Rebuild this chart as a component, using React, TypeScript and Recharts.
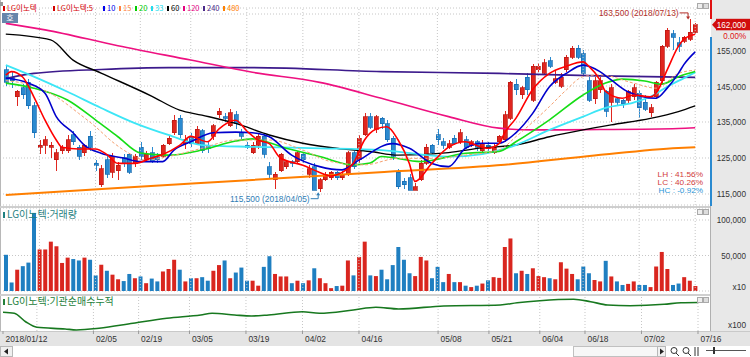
import React from "react";
import {
  ComposedChart, Bar, Line, XAxis, YAxis, CartesianGrid,
  ReferenceLine, ReferenceDot, Cell,
} from "recharts";

// ─── Data (LG이노텍 daily, 2018/01/12 – 2018/07/16) ───────────────────────────

const YEAR = "2018";

const dates = [
  "01/12","01/15","01/16","01/17","01/18","01/19","01/22","01/23","01/24","01/25","01/26","01/29","01/30","01/31",
  "02/01","02/02","02/05","02/06","02/07","02/08","02/09","02/12","02/13","02/14","02/19","02/20","02/21","02/22","02/23","02/26","02/27","02/28",
  "03/02","03/05","03/06","03/07","03/08","03/09","03/12","03/13","03/14","03/15","03/16","03/19","03/20","03/21","03/22","03/23","03/26","03/27","03/28","03/29","03/30",
  "04/02","04/03","04/04","04/05","04/06","04/09","04/10","04/11","04/12","04/13","04/16","04/17","04/18","04/19","04/20","04/23","04/24","04/25","04/26","04/27","04/30",
  "05/02","05/03","05/04","05/08","05/09","05/10","05/11","05/14","05/15","05/16","05/17","05/18","05/21","05/23","05/24","05/25","05/28","05/29","05/30","05/31",
  "06/01","06/04","06/05","06/07","06/08","06/11","06/12","06/14","06/15","06/18","06/19","06/20","06/21","06/22","06/25","06/26","06/27","06/28","06/29",
  "07/02","07/03","07/04","07/05","07/06","07/09","07/10","07/11","07/12","07/13","07/16",
];

const opens = [
  149500,147500,142000,144500,146000,139500,128000,128500,128000,124500,127000,127000,131500,128000,
  126500,131000,123500,117500,124500,121000,121500,125000,126000,123500,128000,124500,126500,125000,125500,129000,132000,136000,
  129000,131000,129000,132500,128500,131000,137000,136500,134000,137000,132000,128500,126500,128500,131000,122500,119000,121500,122500,124000,124000,
  126000,120500,122500,116500,119000,119500,121000,119500,120500,126500,124500,131500,136500,133000,136000,134500,130500,121000,118500,119500,116000,
  119000,123500,128500,131500,129500,128000,130500,129500,130000,128500,129500,127000,128500,126500,129500,130000,136000,145500,142500,147500,
  141000,149500,148500,152000,146000,145000,149500,153000,155500,154000,146500,141500,144000,143500,140500,141500,141000,141000,142000,
  143000,140500,137500,142000,146500,156000,159500,157000,157500,158000,160000,
];

const highs = [
  150500,149000,144000,145500,147000,140500,130000,131000,129500,127500,128500,131500,132500,128500,
  129000,132500,124500,123000,126000,126500,124000,126000,126500,126000,129500,127000,128000,126500,129000,131500,137000,137000,
  131500,132000,134000,133000,129500,134500,139000,137500,138500,138000,133000,129500,129500,132000,132000,124000,121000,126500,124500,124500,127000,
  126500,123000,123500,119500,121000,121500,121500,121500,127000,127000,131500,137500,137500,137000,136500,135500,131000,122000,119500,120500,118000,
  124500,129000,129000,133000,130500,130000,131500,133000,131000,130000,130000,130000,129500,129000,131500,138000,146500,147000,145000,148500,
  151000,151500,152500,153000,149500,148500,153500,156000,156500,155000,147500,147500,147500,144000,145500,142000,141500,144000,145500,
  144000,142500,140000,146500,156500,161000,160500,158500,159000,163500,162500,
];

const lows = [
  145000,144500,139500,141500,138500,130500,126000,126000,125000,121500,126000,126500,128500,124500,
  125500,127000,121500,117000,119500,119500,119000,122500,120500,122500,124500,124000,123500,123500,125000,128500,131500,130500,
  127500,128000,128500,126500,126500,130000,136000,135000,133500,133000,130000,127500,126000,127500,125000,119500,116500,121000,122000,122500,123500,
  123500,119500,116000,115500,118500,119000,119000,119000,120000,122000,123500,131000,133000,132000,133000,129500,124500,116500,116500,116000,116000,
  118500,123000,126000,128500,127500,127500,128500,129000,127500,128000,127000,126500,127000,126000,129000,129500,135500,142500,141500,142500,
  140500,149000,148000,150000,145500,144500,149000,152500,152500,147500,140500,140000,143000,136500,135000,139500,139000,140000,141000,
  136000,138000,136500,141500,145500,155500,155000,154500,157000,157500,159500,
];

const closes = [
  146000,146500,143500,142500,139500,132000,128500,130000,128500,126500,128000,130000,129500,125500,
  128500,128000,123000,122000,120500,125500,123000,123500,121000,125500,125500,126000,124000,124500,128500,130500,135500,131500,
  130000,129000,133000,127000,127500,134000,138000,136000,137500,134500,131000,128000,128500,131000,126000,120500,120500,126000,124000,123500,126500,
  124500,122000,116000,119000,120500,121000,119500,120500,126500,122500,130500,136500,133500,136500,134500,130000,125500,117000,117500,116000,117000,
  123500,128000,126500,130000,128500,129000,129000,132000,128000,129500,128000,129000,127500,128000,131000,137000,146000,144000,144500,144000,
  150500,150500,151500,150500,147000,147500,153000,155500,153000,148500,141000,146500,146500,138000,144500,140500,140000,143500,144500,
  139000,138500,139000,146000,156000,160500,158500,156000,158500,160000,162000,
];

// 거래량 (x10)
const volumes = [
  51000,12000,30000,35000,40000,110000,58500,58500,69500,63000,39500,47000,45000,43000,
  47000,44000,22000,37000,28500,23000,16500,14000,24000,18000,20500,11000,17500,13500,27500,31000,44000,30000,
  13500,18000,18000,19500,14500,28500,36500,43000,18000,26000,33000,14500,14500,7500,34000,49000,24000,20500,20500,11000,14500,
  11000,15000,32000,18000,11000,4000,7000,7500,43000,22000,48000,69500,22000,21000,30000,16500,36500,62000,44000,25000,21000,
  48000,43000,18000,34000,12500,24000,12500,12500,7500,5500,7500,10500,15000,19500,18500,62000,74000,25000,28500,24000,
  32000,21000,19500,18000,16500,40500,31500,24000,16500,34500,25000,15500,13500,42500,20500,13500,8500,10000,13500,
  8500,8500,5500,34500,55000,31000,8500,10500,19500,14500,7000,
];

// moving averages: [day index, price]
const ma5Pts: [number, number][] = [
  [0,148000],[1,149000],[3,147500],[5,142000],[7,135500],[9,130000],[10,128000],[13,127500],[16,127500],[18,126000],
  [20,123500],[23,123500],[26,125000],[28,126000],[31,128500],[33,131000],[36,129500],[38,133000],[41,135500],[43,132500],
  [45,130000],[47,129000],[49,125000],[53,123000],[56,121000],[58,120000],[60,121000],[62,123500],[64,130000],[66,133000],
  [68,133700],[70,130000],[72,123500],[73,118500],[76,123500],[79,128000],[82,129500],[84,128500],[86,127700],[88,129000],
  [89,132000],[91,136000],[94,144000],[97,148500],[100,150500],[103,151700],[104,150500],[106,146700],[107,143500],[110,141600],
  [112,142500],[115,142000],[116,143000],[118,149500],[120,156000],[121,158000],[123,159400],
];
const ma10Pts: [number, number][] = [
  [0,147200],[4,145800],[7,143000],[9,136500],[12,132000],[14,128600],[17,126300],[21,125000],[24,124000],[28,124000],
  [30,127200],[33,129500],[37,132000],[41,132200],[44,132000],[47,130900],[51,125800],[56,122600],[60,121700],[63,124400],
  [69,129000],[72,127700],[76,123500],[79,122600],[82,127700],[85,129100],[88,129100],[91,132000],[94,137400],[97,144800],
  [100,148500],[103,150800],[106,149000],[108,146700],[111,143400],[116,141600],[118,144400],[120,148500],[121,151000],[123,154500],
];
const ma15Pts: [number, number][] = [
  [0,146500],[5,145000],[9,142000],[13,137400],[16,133700],[19,129500],[22,126300],[25,124400],[29,125400],[35,127700],
  [41,130000],[47,130000],[53,127200],[58,124000],[64,123100],[70,124900],[76,124900],[82,125800],[88,127200],[91,130900],
  [97,139300],[100,143900],[103,147600],[106,148100],[112,145800],[116,144400],[120,148500],[123,149400],
];
const ma20Pts: [number, number][] = [
  [0,145800],[5,144400],[11,141100],[16,135600],[20,130900],[24,126400],[29,125800],[35,127200],[41,129700],[44,130300],
  [50,127700],[56,125400],[62,123100],[65,123600],[67,125400],[74,124000],[82,126300],[88,126800],[91,129500],[97,135600],
  [103,142500],[107,145800],[110,146900],[114,146400],[117,145500],[120,147600],[123,149000],
];
const ma33Pts: [number, number][] = [
  [0,150800],[5,147600],[11,143400],[17,138900],[23,134700],[29,131400],[35,128600],[44,128100],[56,127700],[67,127200],
  [79,125400],[85,126100],[91,128600],[97,132800],[103,136500],[107,138900],[112,140400],[115,142000],[118,144800],[121,147200],
  [123,148800],
];
const ma60Pts: [number, number][] = [
  [0,159400],[8,157800],[12,152200],[17,148600],[26,142200],[31,138300],[35,136900],[41,134600],[47,131400],[53,129100],
  [59,127700],[65,126800],[70,125800],[79,126500],[85,127800],[91,128600],[97,130900],[103,132800],[108,134200],[115,136000],
  [120,137900],[123,139500],
];
const ma120Pts: [number, number][] = [
  [0,162400],[7,160600],[20,156200],[33,152200],[44,148800],[56,146000],[67,141600],[79,136500],[88,133300],[94,132800],
  [106,132900],[120,133200],[123,133400],
];
const ma240Pts: [number, number][] = [
  [0,147100],[5,148500],[17,149600],[29,150100],[44,150100],[67,149000],[88,148500],[106,147800],[123,147400],
];
const ma480Pts: [number, number][] = [
  [0,114700],[20,116700],[44,118900],[66,121000],[89,123100],[105,125700],[120,127800],[123,128000],
];

// 기관순매수누적 (x100)
const instPts: [number, number][] = [
  [0,-36600],[2,-38100],[4,-50700],[6,-59100],[11,-61600],[13,-63100],[17,-60600],[23,-53100],[29,-45600],[35,-40600],
  [37,-38100],[41,-40600],[44,-42100],[47,-40600],[53,-35700],[56,-38100],[62,-33100],[66,-29100],[70,-31600],[78,-27100],
  [88,-25600],[91,-22200],[95,-19200],[101,-17100],[104,-20700],[107,-25600],[111,-26700],[117,-24600],[120,-22200],[123,-21897],
];

const priceTicks = [115000,120000,125000,130000,135000,140000,145000,150000,155000,160000,165000];
const volTicks = [50000, 100000];
const xLabels = ["01/12","02/05","02/19","03/05","03/19","04/02","04/16","05/08","05/21","06/04","06/18","07/02","07/16"];
const gridDates = ["01/22","02/05","02/19","03/05","03/19","04/02","04/16","05/08","05/21","06/04","06/18","07/02","07/16"];

const legendItems = [
  { x: 3, color: "#d40000", text: "LG이노텍" },
  { x: 53, color: "#d40000", text: "LG이노텍:5" },
  { x: 103, color: "#0000ee", text: "10" },
  { x: 119, color: "#ff8040", text: "15" },
  { x: 135, color: "#00cc00", text: "20" },
  { x: 151, color: "#22ddee", text: "33" },
  { x: 167, color: "#000000", text: "60" },
  { x: 183, color: "#e4007f", text: "120" },
  { x: 203, color: "#4b2a8a", text: "240" },
  { x: 223, color: "#ff8000", text: "480" },
];

// ─── Styling ──────────────────────────────────────────────────────────────────

const FONT = "'Liberation Sans','Noto Sans CJK KR',sans-serif";
const KFONT = "'Noto Sans CJK KR','Liberation Sans',sans-serif";
const UP = "#e0261f";
const UP_EDGE = "#b71711";
const DOWN = "#2b8ad0";
const DOWN_EDGE = "#1668ad";
const GRID = "#c6c6c6";
const AXIS_W = 39;
const PAD = { left: 0, right: 13 };
const AX_FS = 9.5;

const maLines = [
  { key: "ma480", color: "#ff7f00", w: 2 },
  { key: "ma240", color: "#3c1a8c", w: 1.6 },
  { key: "ma120", color: "#ee1180", w: 1.6 },
  { key: "ma60", color: "#000000", w: 1.4 },
  { key: "ma33", color: "#3ce6f6", w: 1.8 },
  { key: "ma20", color: "#16dd16", w: 1.6 },
  { key: "ma15", color: "#f5a070", w: 1, dash: "3 2" },
  { key: "ma10", color: "#0000cc", w: 1.6 },
  { key: "ma5", color: "#ff0000", w: 1.6 },
];

// the HTS font is a narrow bitmap face: squeeze our text to the same widths
const CW: Record<string, number> = { ",": 2.2, ".": 2.2, "/": 3, " ": 2.5, ":": 2.2, "%": 7, "(": 3, ")": 3, "-": 3.5 };
const tw = (s: string) => [...s].reduce((a, ch) => a + (CW[ch] ?? (/[0-9a-z]/.test(ch) ? 4.5 : 5.5)), 0);

function T({ s, ...rest }: any) {
  return (
    <text fontFamily={FONT} textLength={tw(s)} lengthAdjust="spacingAndGlyphs" {...rest}>{s}</text>
  );
}

// ─── Rows ─────────────────────────────────────────────────────────────────────

const rows: any[] = dates.map((d, i) => ({
  d, o: opens[i], h: highs[i], l: lows[i], c: closes[i],
  hl: [lows[i], highs[i]], v: volumes[i],
  ma5: null, ma10: null, ma15: null, ma20: null, ma33: null,
  ma60: null, ma120: null, ma240: null, ma480: null, inst: null,
}));
const sparse: [string, [number, number][]][] = [
  ["ma5", ma5Pts], ["ma10", ma10Pts], ["ma15", ma15Pts], ["ma20", ma20Pts], ["ma33", ma33Pts],
  ["ma60", ma60Pts], ["ma120", ma120Pts], ["ma240", ma240Pts], ["ma480", ma480Pts], ["inst", instPts],
];
for (const [key, pts] of sparse) for (const [i, val] of pts) rows[i][key] = val;

const last = rows.length - 1;
const hiIdx = highs.indexOf(Math.max(...highs));
const loIdx = lows.indexOf(Math.min(...lows));
const hiVal = highs[hiIdx];
const loVal = lows[loIdx];
const lastClose = closes[last];
const lastInst = instPts[instPts.length - 1][1];

const fmt = (n: number) => n.toLocaleString("en-US");
const pct = (v: number) => `${v >= 0 ? "" : "-"}${Math.abs(v * 100).toFixed(2)}%`;

// ─── Shapes ───────────────────────────────────────────────────────────────────

function Candle(props: any) {
  const { x, y, width, height, payload } = props;
  if (x == null || y == null) return <g />;
  const top = Math.min(y, y + height);
  const h = Math.abs(height);
  const span = payload.h - payload.l || 1;
  const py = (v: number) => top + ((payload.h - v) / span) * h;
  const up = payload.c >= payload.o;
  const cx = Math.round(x + width / 2) + 0.5;
  const bTop = py(Math.max(payload.o, payload.c));
  const bBot = py(Math.min(payload.o, payload.c));
  return (
    <g shapeRendering="crispEdges">
      <line x1={cx} x2={cx} y1={top} y2={top + h} stroke={up ? UP : DOWN} />
      <rect
        x={cx - 2.5} y={bTop} width={4} height={Math.max(1, bBot - bTop)}
        fill={up ? UP : DOWN} stroke={up ? UP_EDGE : DOWN_EDGE} strokeWidth={0.7}
      />
    </g>
  );
}

function RightTick({ y, payload, maxShown }: any) {
  if (maxShown != null && payload.value > maxShown) return <g />;
  return <T s={fmt(payload.value)} x={746} y={y} dy={3.5} textAnchor="end" fontSize={AX_FS} fill="#333" />;
}

function DateTick({ x, payload }: any) {
  if (!xLabels.includes(payload.value)) return <g />;
  const text = payload.index === 0 ? `${YEAR}/${payload.value}` : payload.value;
  return (
    <g>
      <line x1={x} x2={x} y1={37} y2={40} stroke="#999" />
      <T s={text} x={x + 2.5} y={48} fontSize={AX_FS} fill="#333" />
    </g>
  );
}

function PriceTag({ viewBox }: any) {
  const xr = viewBox.x + viewBox.width;
  const y = viewBox.y;
  return (
    <g>
      <polygon points={`${xr + 1},${y} ${xr + 6},${y - 5.5} ${xr + 6},${y + 5.5}`} fill="#d10d0d" />
      <rect x={xr + 5} y={y - 6} width={34} height={11.5} fill="#d10d0d" />
      <T s={fmt(lastClose)} x={746} y={y + 3.5} textAnchor="end" fontSize={AX_FS} fill="#fff" />
      <T s="0.00%" x={746} y={y + 14.5} textAnchor="end" fontSize={AX_FS} fill="#e01010" />
    </g>
  );
}

function HighNote({ cx, cy }: any) {
  const col = "#b3302a";
  return (
    <g>
      <T s={`${fmt(hiVal)} (${YEAR}/${dates[hiIdx]})`} x={cx - 11} y={cy - 3} textAnchor="end" fontSize={9.5} fill={col} />
      <polyline points={`${cx - 10},${cy - 6.5} ${cx - 1.5},${cy - 6.5} ${cx - 1.5},${cy - 2}`} fill="none" stroke={col} />
      <polygon points={`${cx - 3.5},${cy - 3} ${cx + 0.5},${cy - 3} ${cx - 1.5},${cy}`} fill={col} />
    </g>
  );
}

function LowNote({ cx, cy }: any) {
  const col = "#2f7db5";
  return (
    <g>
      <T s={`${fmt(loVal)} (${YEAR}/${dates[loIdx]})`} x={cx - 10} y={cy + 9.5} textAnchor="end" fontSize={9.5} fill={col} />
      <polyline points={`${cx - 9},${cy + 6.5} ${cx - 1.5},${cy + 6.5} ${cx - 1.5},${cy + 2}`} fill="none" stroke={col} />
      <polygon points={`${cx - 3.5},${cy + 3} ${cx + 0.5},${cy + 3} ${cx - 1.5},${cy}`} fill={col} />
    </g>
  );
}

function PanelIcons({ top }: { top: number }) {
  return (
    <>
      <div style={{ position: "absolute", left: 697, top, width: 4, height: 4, border: "1px solid #aaa", background: "#eee" }} />
      <div style={{ position: "absolute", left: 703, top, width: 4, height: 4, border: "1px solid #aaa", background: "#ddd" }} />
    </>
  );
}

function Header({ top, color, text }: { top: number; color: string; text: string }) {
  return (
    <div style={{ position: "absolute", left: 3, top, fontFamily: KFONT, fontSize: 10, color, lineHeight: "11px", whiteSpace: "nowrap" }}>
      <span style={{ display: "inline-block", width: 2, height: 6, background: color, marginRight: 2 }} />
      {text}
    </div>
  );
}

// ─── Component ────────────────────────────────────────────────────────────────

export default function App() {
  const lh = hiVal / loVal - 1;
  const lc = lastClose / loVal - 1;
  const hc = lastClose / hiVal - 1;

  return (
    <div style={{ position: "relative", width: 750, height: 357, background: "#fff", overflow: "hidden" }}>
      <style>{`body{margin:0}`}</style>

      {/* chrome (drawn under the charts) */}
      <div style={{ position: "absolute", left: 711, top: 0, width: 39, height: 331, background: "#e8e8e8" }} />
      <div style={{ position: "absolute", left: 0, top: 331, width: 750, height: 15, background: "#e4e4e4", borderTop: "1px solid #c9c9c9", boxSizing: "border-box" }} />
      <div style={{ position: "absolute", left: 0, top: 0, width: 1, height: 331, background: "#b8b8b8" }} />
      <div style={{ position: "absolute", left: 0, top: 206, width: 711, height: 2, background: "#cfcfcf" }} />
      <div style={{ position: "absolute", left: 0, top: 294, width: 711, height: 2, background: "#cfcfcf" }} />
      <div style={{ position: "absolute", left: 710, top: 206, width: 1, height: 125, background: "#b0b0b0" }} />
      <div style={{ position: "absolute", left: 710, top: 0, width: 2, height: 19, background: "#e01010" }} />
      <div style={{ position: "absolute", left: 710, top: 37, width: 2, height: 169, background: "#2a8ad0" }} />

      {/* price panel */}
      <div style={{ position: "absolute", left: 0, top: 0 }}>
        <ComposedChart width={750} height={206} data={rows} margin={{ top: 8, right: 0, bottom: 1, left: 3 }}>
          <CartesianGrid vertical={false} stroke={GRID} strokeDasharray="1 2" />
          <XAxis dataKey="d" hide padding={PAD} />
          <YAxis
            orientation="right" width={AXIS_W} domain={[111944, 166667]} allowDataOverflow
            ticks={priceTicks} tick={(p: any) => <RightTick {...p} maxShown={155000} />} axisLine={false} tickLine={false}
          />
          {gridDates.map((d) => (
            <ReferenceLine key={d} x={d} stroke={GRID} strokeDasharray="1 2" />
          ))}
          <Bar dataKey="hl" barSize={4} shape={(p: any) => <Candle {...p} />} isAnimationActive={false} />
          {maLines.map((m) => (
            <Line
              key={m.key} dataKey={m.key} type="monotone" connectNulls dot={false}
              stroke={m.color} strokeWidth={m.w} strokeDasharray={m.dash} isAnimationActive={false}
            />
          ))}
          <ReferenceDot x={dates[hiIdx]} y={hiVal} r={0} shape={(p: any) => <HighNote {...p} />} />
          <ReferenceDot x={dates[loIdx]} y={loVal} r={0} shape={(p: any) => <LowNote {...p} />} />
          <ReferenceLine y={lastClose} stroke="none" label={(p: any) => <PriceTag {...p} />} />
        </ComposedChart>
      </div>

      {/* volume panel */}
      <div style={{ position: "absolute", left: 0, top: 206 }}>
        <ComposedChart width={750} height={88} data={rows} margin={{ top: 2, right: 0, bottom: 3, left: 3 }}>
          <CartesianGrid vertical={false} stroke={GRID} strokeDasharray="1 2" />
          <XAxis dataKey="d" hide padding={PAD} />
          <YAxis
            orientation="right" width={AXIS_W} domain={[0, 116900]} allowDataOverflow
            ticks={volTicks} tick={(p: any) => <RightTick {...p} />} axisLine={false} tickLine={false}
          />
          {gridDates.map((d) => (
            <ReferenceLine key={d} x={d} stroke={GRID} strokeDasharray="1 2" />
          ))}
          <Bar dataKey="v" barSize={4} isAnimationActive={false}>
            {rows.map((r, i) => (
              <Cell key={i} fill={r.c >= r.o ? "#d9261f" : "#1f7fc1"} />
            ))}
          </Bar>
        </ComposedChart>
      </div>

      {/* institutional cumulative panel + date axis */}
      <div style={{ position: "absolute", left: 0, top: 294 }}>
        <ComposedChart width={750} height={52} data={rows} margin={{ top: 2, right: 0, bottom: 0, left: 3 }}>
          <XAxis
            dataKey="d" interval={0} padding={PAD} height={15} axisLine={false} tickLine={false}
            tick={(p: any) => <DateTick {...p} />}
          />
          <YAxis
            orientation="right" width={AXIS_W} domain={[-64650, -12150]} allowDataOverflow
            ticks={[lastInst]} axisLine={false} tickLine={false}
            tick={(p: any) => <T s={fmt(p.payload.value)} x={746} y={p.y} dy={1} textAnchor="end" fontSize={AX_FS} fill="#333" />}
          />
          {gridDates.map((d) => (
            <ReferenceLine key={d} x={d} stroke={GRID} strokeDasharray="1 2" />
          ))}
          <Line dataKey="inst" type="monotone" connectNulls dot={false} stroke="#17781f" strokeWidth={1.6} isAnimationActive={false} />
        </ComposedChart>
      </div>

      {/* legend */}
      {legendItems.map((it) => (
        <div key={it.x} style={{ position: "absolute", left: it.x, top: 3, fontFamily: KFONT, fontSize: 7.5, lineHeight: "9px", color: it.color, whiteSpace: "nowrap" }}>
          <span style={{ display: "inline-block", width: 2, height: 5, background: it.color, marginRight: 2 }} />
          {it.text}
        </div>
      ))}
      <div style={{ position: "absolute", left: 0, top: 2, width: 3, height: 4, background: "#999" }} />
      <div style={{ position: "absolute", left: 2, top: 13, width: 16, height: 10, background: "#6786ab", color: "#fff", fontFamily: KFONT, fontSize: 8, lineHeight: "10px", textAlign: "center" }}>호</div>
      <PanelIcons top={3} />
      <PanelIcons top={209} />
      <PanelIcons top={297} />

      <Header top={208} color="#1f8080" text="LG이노텍:거래량" />
      <Header top={295} color="#23803a" text="LG이노텍:기관순매수누적" />

      {/* LH / LC / HC */}
      <svg width={56} height={28} style={{ position: "absolute", left: 650, top: 168 }}>
        <T s={`LH : ${pct(lh)}`} x={53} y={8.5} textAnchor="end" fontSize={7.5} fill="#d24040" />
        <T s={`LC : ${pct(lc)}`} x={53} y={16.5} textAnchor="end" fontSize={7.5} fill="#d24040" />
        <T s={`HC : ${pct(hc)}`} x={53} y={24.5} textAnchor="end" fontSize={7.5} fill="#1f95d8" />
      </svg>

      {/* unit marks */}
      <svg width={30} height={50} style={{ position: "absolute", left: 718, top: 280 }}>
        <T s="x10" x={28} y={10} textAnchor="end" fontSize={AX_FS} fill="#333" />
        <T s="x100" x={28} y={48} textAnchor="end" fontSize={AX_FS} fill="#333" />
      </svg>

      {/* scroll row */}
      <svg width={750} height={11} style={{ position: "absolute", left: 0, top: 346 }}>
        <rect x={0.5} y={0.5} width={12} height={10} fill="#f0f0f0" stroke="#b8b8b8" />
        <polygon points="4,5.5 8,2.5 8,8.5" fill="#222" />
        <rect x={573.5} y={0.5} width={84} height={10} fill="#f7f7f7" stroke="#c0c0c0" />
        <rect x={657.5} y={0.5} width={8} height={10} fill="#f0f0f0" stroke="#b8b8b8" />
        <polygon points="660,2.5 664,5.5 660,8.5" fill="#222" />
        <circle cx={674} cy={4.5} r={3} fill="none" stroke="#333" />
        <line x1={676} y1={7} x2={679} y2={10} stroke="#333" />
        <circle cx={686} cy={4.5} r={3} fill="none" stroke="#333" />
        <line x1={688} y1={7} x2={691} y2={10} stroke="#333" />
        <line x1={695} y1={1} x2={695} y2={10} stroke="#333" />
        <line x1={698} y1={1} x2={698} y2={10} stroke="#333" />
        <line x1={706} y1={4.5} x2={746} y2={4.5} stroke="#555" />
        <rect x={713} y={1} width={2} height={7} fill="#333" />
      </svg>
    </div>
  );
}
